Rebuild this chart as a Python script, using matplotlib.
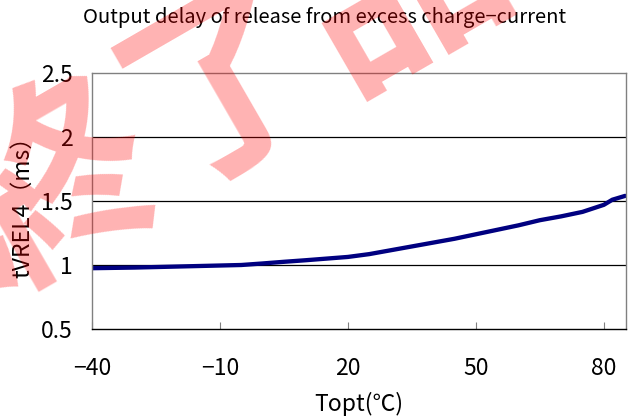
import numpy as np
import matplotlib
matplotlib.use("Agg")
import matplotlib.pyplot as plt

plt.rcParams['font.family'] = ['Noto Sans CJK JP', 'DejaVu Sans']

# data
temp = [-40, -30, -20, -10, -5, 0, 5, 10, 15, 20, 25, 30, 35, 40, 45, 50,
        55, 60, 65, 70, 75, 80, 82, 85]
delay = [0.975, 0.98, 0.988, 0.996, 1.0, 1.012, 1.025, 1.037, 1.05, 1.063,
         1.085, 1.115, 1.145, 1.175, 1.205, 1.24, 1.275, 1.31, 1.35, 1.38,
         1.415, 1.47, 1.51, 1.54]
xticks = [-40, -10, 20, 50, 80]
xticklabels = ['\u221240', '\u221210', '20', '50', '80']
yticks = [0.5, 1, 1.5, 2, 2.5]
yticklabels = ['0.5', '1', '1.5', '2', '2.5']

fig = plt.figure(figsize=(6.28, 4.17), dpi=100)
ax = fig.add_axes([92/628, 1-329/417, 534/628, 256/417])

ax.plot(temp, delay, color='#000080', lw=3.1, solid_capstyle='round')

ax.set_xlim(-40, 85.2)
ax.set_ylim(0.5, 2.5)
ax.set_xticks(xticks)
ax.set_xticklabels(xticklabels, fontsize=16.5)
ax.set_yticks(yticks)
ax.set_yticklabels(yticklabels, fontsize=16.5)
ax.tick_params(axis='x', direction='in', length=5, width=0.8, color='#808080', pad=20)
ax.tick_params(axis='y', length=0, pad=14)

# grid lines at 1, 1.5, 2
for v in [1, 1.5, 2]:
    ax.axhline(v, color='black', lw=0.9, zorder=1)

for s in ['top', 'right', 'left']:
    ax.spines[s].set_color('#808080')
    ax.spines[s].set_linewidth(1.0)
ax.spines['bottom'].set_color('black')
ax.spines['bottom'].set_linewidth(1.0)

fig.text(325/628, 1-17/417, 'Output delay of release from excess charge\u2212current',
         ha='center', va='center', fontsize=14.5)
fig.text(359/628, 1-404/417, 'Topt(\u2103)', ha='center', va='center', fontsize=16.5)
fig.text(23/628, 1-201/417, 'tVREL4\uff08ms\uff09', ha='center', va='center',
         rotation=90, fontsize=16.5)

# watermark
fig.text(230/628, 1-90/417, '終了品', ha='center', va='center', rotation=30,
         fontsize=145, color='red', alpha=0.3, fontweight='bold')

fig.savefig('out.png', dpi=100)
